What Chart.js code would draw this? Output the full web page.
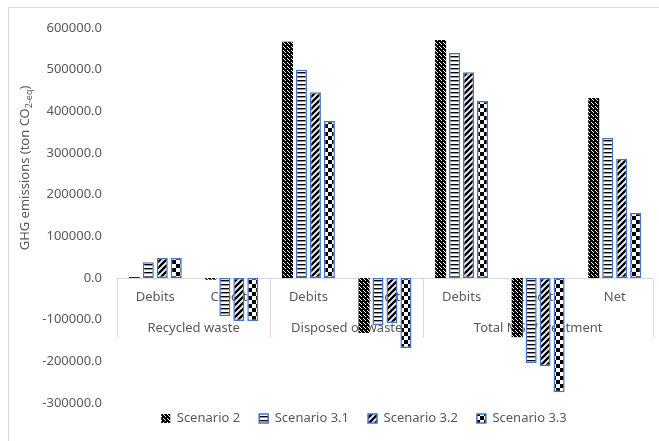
<!DOCTYPE html>
<html>
<head>
<meta charset="utf-8">
<script src="https://cdn.jsdelivr.net/npm/chart.js@4"></script>
<style>
    html, body { margin: 0; padding: 0; background: #fff; }
    #wrap { width: 659px; height: 441px; }
</style>
</head>
<body>
<div id="wrap"><canvas id="chart" width="659" height="441"></canvas></div>
<script>
// Categories and their groups (two-level axis)
const categories = ['Debits', 'Credits', 'Debits', 'Credits', 'Debits', 'Credits', 'Net'];
const groupLabels = ['Recycled waste', 'Disposed of waste', 'Total MSW treatment'];
const groupSizes = [2, 2, 3];

// GHG emissions, ton CO2-eq
const scenario2 = [2000, -4000, 567000, -132000, 571000, -142000, 432000];
const scenario31 = [38000, -91000, 500000, -113000, 540000, -204000, 336000];
const scenario32 = [48000, -103000, 446000, -108000, 494000, -211000, 286000];
const scenario33 = [48000, -103000, 377000, -168000, 425000, -274000, 156000];

const yTicks = { min: -300000, max: 600000, step: 100000 };

const textColor = '#595959';
const lineColor = '#d9d9d9';
const fontFamily = '"Noto Sans", "Open Sans", sans-serif';

const canvas = document.getElementById('chart');
const ctx = canvas.getContext('2d');

const makePattern = (size, draw) => {
    const c = document.createElement('canvas');
    c.width = size;
    c.height = size;
    const g = c.getContext('2d');
    g.fillStyle = '#fff';
    g.fillRect(0, 0, size, size);
    g.fillStyle = '#000';
    g.strokeStyle = '#000';
    draw(g);
    return ctx.createPattern(c, 'repeat');
};

// dense dark confetti
const dotsPattern = makePattern(4, (g) => {
    g.fillRect(0, 0, 4, 4);
    g.fillStyle = '#fff';
    g.fillRect(1, 0, 1, 1);
    g.fillRect(3, 2, 1, 1);
    g.fillRect(0, 3, 1, 1);
});

// horizontal lines
const hLinesPattern = makePattern(4, (g) => {
    g.fillRect(0, 0, 4, 1.4);
});

// wide upward diagonal
const diagPattern = makePattern(6, (g) => {
    g.lineWidth = 2.4;
    g.beginPath();
    g.moveTo(-1, 7); g.lineTo(7, -1);
    g.moveTo(-4, 4); g.lineTo(4, -4);
    g.moveTo(2, 10); g.lineTo(10, 2);
    g.stroke();
});

// large checkerboard
const checkPattern = makePattern(8, (g) => {
    g.fillRect(0, 0, 4, 4);
    g.fillRect(4, 4, 4, 4);
});

const blue = '#4472c4';

// Two-level category axis, zero line, frame and y title
const axisDecor = {
    id: 'axisDecor',
    afterLayout(chart) {
        // legend sits a bit right of the canvas middle and closer to the plot
        const lg = chart.legend;
        if (!lg) return;
        lg.left = 75;
        lg.right = 653;
        lg.top -= 10;
        lg.bottom -= 10;
    },
    beforeDatasetsDraw(chart) {
        const c = chart.ctx;
        const x = chart.scales.x;
        const y = chart.scales.y;
        const area = chart.chartArea;
        const y0 = Math.round(y.getPixelForValue(0)) + 0.5;
        const step = (x.getPixelForValue(1) - x.getPixelForValue(0));
        const boxH = 59;

        c.save();
        c.strokeStyle = lineColor;
        c.lineWidth = 1;

        // zero line
        c.beginPath();
        c.moveTo(area.left, y0);
        c.lineTo(area.right, y0);
        c.stroke();

        // group separators
        let idx = 0;
        const edges = [x.getPixelForValue(0) - step / 2];
        groupSizes.forEach((n) => {
            idx += n;
            edges.push(x.getPixelForValue(idx - 1) + step / 2);
        });
        edges.forEach((ex) => {
            const px = Math.round(ex) + 0.5;
            c.beginPath();
            c.moveTo(px, y0);
            c.lineTo(px, y0 + boxH);
            c.stroke();
        });

        c.fillStyle = textColor;
        c.font = '13px ' + fontFamily;
        c.textAlign = 'center';
        c.textBaseline = 'middle';
        categories.forEach((lab, i) => {
            c.fillText(lab, x.getPixelForValue(i), y0 + 19);
        });
        groupLabels.forEach((lab, i) => {
            c.fillText(lab, (edges[i] + edges[i + 1]) / 2, y0 + 50);
        });

        // outer frame (top and left)
        c.beginPath();
        c.moveTo(8.5, chart.height);
        c.lineTo(8.5, 7.5);
        c.lineTo(chart.width, 7.5);
        c.stroke();

        // rotated y-axis title with subscript
        c.translate(29, 168);
        c.rotate(-Math.PI / 2);
        c.textAlign = 'left';
        c.textBaseline = 'alphabetic';
        const main = 'GHG emissions (ton CO';
        const sub = '2-eq';
        c.font = '13px ' + fontFamily;
        const wMain = c.measureText(main).width;
        const wClose = c.measureText(')').width;
        c.font = '9px ' + fontFamily;
        const wSub = c.measureText(sub).width;
        const start = -(wMain + wSub + wClose) / 2;
        c.font = '13px ' + fontFamily;
        c.fillText(main, start, 0);
        c.font = '9px ' + fontFamily;
        c.fillText(sub, start + wMain, 3);
        c.font = '13px ' + fontFamily;
        c.fillText(')', start + wMain + wSub, 0);
        c.restore();
    }
};

const barDataset = (label, data, bg, border) => ({
    label,
    data,
    backgroundColor: bg,
    borderColor: border || 'rgba(0,0,0,0)',
    borderWidth: border ? 1.5 : 0,
    borderSkipped: false,
    categoryPercentage: 0.73,
    barPercentage: 0.79,
});

new Chart(canvas, {
    type: 'bar',
    data: {
        labels: categories,
        datasets: [
            barDataset('Scenario 2', scenario2, dotsPattern, null),
            barDataset('Scenario 3.1', scenario31, hLinesPattern, blue),
            barDataset('Scenario 3.2', scenario32, diagPattern, blue),
            barDataset('Scenario 3.3', scenario33, checkPattern, blue),
        ],
    },
    options: {
        responsive: false,
        animation: false,
        layout: { padding: { left: 36, right: 6, top: 28, bottom: 0 } },
        plugins: {
            legend: {
                position: 'bottom',
                maxHeight: 38,
                labels: {
                    boxWidth: 9,
                    boxHeight: 9,
                    padding: 19,
                    color: textColor,
                    font: { family: fontFamily, size: 13 },
                },
            },
            tooltip: { enabled: false },
        },
        scales: {
            x: {
                display: false,
            },
            y: {
                min: yTicks.min,
                max: yTicks.max,
                afterFit(scale) { scale.width = 81; },
                grid: { display: false, drawTicks: false },
                border: { display: false },
                ticks: {
                    stepSize: yTicks.step,
                    padding: 15,
                    color: textColor,
                    font: { family: fontFamily, size: 13 },
                    callback: (v) => v.toFixed(1),
                },
            },
        },
    },
    plugins: [axisDecor],
});
</script>
</body>
</html>
